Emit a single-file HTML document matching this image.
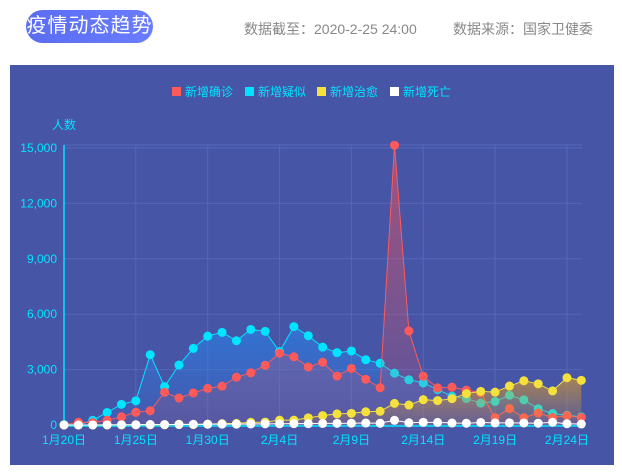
<!DOCTYPE html><html><head><meta charset="utf-8"><style>
body{margin:0;width:622px;height:472px;background:#fff;font-family:"Liberation Sans","Noto Sans CJK SC",sans-serif;position:relative;overflow:hidden}
.badge{position:absolute;left:26px;top:10px;width:127px;height:33px;border-radius:17px;background:linear-gradient(90deg,#5a6cf0,#6a7cff);color:#fff;font-size:20px;line-height:33px;text-align:center;letter-spacing:1px}
.info{position:absolute;top:19px;font-size:14px;color:#888}
.panel{position:absolute;left:10px;top:65px;width:604px;height:400px;background:#4755a7}
</style></head><body>
<div class="badge">疫情动态趋势</div>
<div class="info" style="left:244px">数据截至：2020-2-25 24:00</div>
<div class="info" style="left:453px">数据来源：国家卫健委</div>
<div class="panel"></div>
<svg id="s" width="622" height="472" style="position:absolute;left:0;top:0" xmlns="http://www.w3.org/2000/svg"></svg>
<script>
var s=document.getElementById('s'),NS='http://www.w3.org/2000/svg';
function el(t,a,txt){var e=document.createElementNS(NS,t);for(var k in a)e.setAttribute(k,a[k]);if(txt!=null)e.textContent=txt;s.appendChild(e);return e;}
var defs=el('defs',{});
function grad(id,c1,o1,c2,o2){var g=document.createElementNS(NS,'linearGradient');g.setAttribute('id',id);g.setAttribute('x1',0);g.setAttribute('y1',0);g.setAttribute('x2',0);g.setAttribute('y2',1);
[[0,c1,o1],[1,c2,o2]].forEach(function(p){var st=document.createElementNS(NS,'stop');st.setAttribute('offset',p[0]);st.setAttribute('stop-color',p[1]);st.setAttribute('stop-opacity',p[2]);g.appendChild(st);});defs.appendChild(g);}
grad('gr','#ff5050',0.5,'#ff5050',0.1);grad('gc','#1e90ff',0.5,'#1e90ff',0.05);grad('gy','#e6a020',0.6,'#e6a020',0.1);
var x0=64,dx=14.37,y0=425,k=(425-148)/15000;
function X(i){return x0+i*dx}function Y(v){return y0-v*k}
// grid
for(var j=0;j<=5;j++){var y=Y(j*3000);el('line',{x1:64,x2:582,y1:y,y2:y,stroke:'#5566b8','stroke-width':1});
el('text',{x:57,y:y+4,fill:'#00e5ff','font-size':12,'text-anchor':'end'},j==0?'0':(j*3000).toLocaleString('en-US'));}
el('line',{x1:64,x2:582,y1:145,y2:145,stroke:'#5566b8'});
var lab=['1月20日','1月25日','1月30日','2月4日','2月9日','2月14日','2月19日','2月24日'];
for(var j=0;j<8;j++){var x=X(j*5);if(j>0)el('line',{x1:x,x2:x,y1:145,y2:425,stroke:'#5566b8'});
el('text',{x:x,y:444,fill:'#00e5ff','font-size':12,'text-anchor':'middle'},lab[j]);}
el('line',{x1:64,x2:64,y1:145,y2:426,stroke:'#00e5ff','stroke-width':1.5});
el('line',{x1:64,x2:582,y1:426,y2:426,stroke:'#00e5ff','stroke-width':1.5});
el('text',{x:64,y:129,fill:'#00e5ff','font-size':12,'text-anchor':'middle'},'人数');
var conf=[0,149,131,259,444,688,769,1771,1459,1737,1982,2102,2590,2829,3235,3887,3694,3143,3399,2656,3062,2478,2015,15152,5090,2641,2009,2048,1886,1749,394,889,397,648,409,508,406];
var susp=[27,0,257,680,1118,1309,3806,2077,3248,4148,4812,5019,4562,5173,5072,3971,5328,4833,4214,3916,4008,3536,3342,2807,2450,2277,1918,1563,1432,1185,1277,1614,1361,882,620,530,439];
var cure=[0,0,0,6,3,11,13,9,43,21,47,72,85,147,157,262,261,387,510,600,632,716,744,1171,1081,1373,1323,1425,1701,1824,1779,2109,2394,2230,1846,2562,2419];
var death=[0,0,3,8,16,15,24,26,26,38,43,46,45,57,64,65,73,73,86,89,97,108,97,254,121,143,142,105,98,136,114,118,109,97,150,71,52];
function series(d,c,g,r){var p='';d.forEach(function(v,i){p+=(i?'L':'M')+X(i)+','+Y(v);});
if(g)el('path',{d:p+'L'+X(d.length-1)+','+y0+'L'+X(0)+','+y0+'Z',fill:'url(#'+g+')'});
el('path',{d:p,fill:'none',stroke:c,'stroke-width':1});
d.forEach(function(v,i){el('circle',{cx:X(i),cy:Y(v),r:r,fill:c});});}
series(susp,'#00e5ff','gc',4.5);series(conf,'#ff5a5a','gr',4.5);series(cure,'#f5e13c','gy',4.5);series(death,'#ffffff',null,4.5);
// legend
var L=[['#ff5a5a','新增确诊',172],['#00e5ff','新增疑似',245],['#f5e13c','新增治愈',317],['#ffffff','新增死亡',390]];
L.forEach(function(l){el('rect',{x:l[2],y:87,width:9,height:9,fill:l[0]});el('text',{x:l[2]+13,y:96,fill:'#00e5ff','font-size':12},l[1]);});
</script>
</body></html>
